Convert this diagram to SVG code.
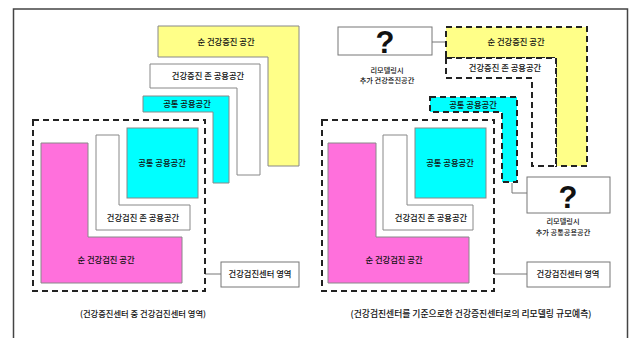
<svg xmlns="http://www.w3.org/2000/svg" width="630" height="338" viewBox="0 0 630 338">
<style>
text{font-family:"Noto Sans CJK KR","Noto Sans",sans-serif;font-size:8.3px;fill:#111;text-anchor:middle;font-weight:500}
.q{font-family:"Liberation Sans",Arial,sans-serif;font-size:31px;font-weight:bold}
.sm{font-size:7.2px}
.solid{stroke:#888;stroke-width:1}
.dash{fill:none;stroke:#222;stroke-width:2;stroke-dasharray:6 4}
.ddash{stroke:#222;stroke-width:2;stroke-dasharray:6 4}
.yel{fill:#FFFF88}
.cy{fill:#00FFFF}
.pk{fill:#FF70DC}
.wh{fill:#FFFFFF}
.box{fill:#fff;stroke:#777;stroke-width:1}
.con{fill:none;stroke:#777;stroke-width:1}
</style>
<rect width="630" height="338" fill="#fff"/>
<path d="M13.5,338 V9 H627.5 V338" fill="none" stroke="#444" stroke-width="1.5"/>

<g id="connectors">
<line class="con" x1="205" y1="274" x2="221" y2="274"/>
<line class="con" x1="494" y1="274" x2="527" y2="274"/>
<line class="con" x1="432" y1="42" x2="446" y2="42"/>
<polyline class="con" points="512,183 512,193 527,193"/>
</g>

<!-- Left panel -->
<g id="L-net-promo">
<polygon class="yel solid" points="158,26 299,26 299,166 268,166 268,57 158,57"/>
<text x="226" y="45">순 건강증진 공간</text>
</g>
<g id="L-promo-zone">
<polygon class="wh solid" points="150,64 260,64 260,175 237,175 237,88 150,88"/>
<text x="208" y="79">건강증진 존 공용공간</text>
</g>
<g id="L-common-top">
<polygon class="cy solid" points="143,96 229,96 229,183 213,183 213,112 143,112"/>
<text x="187" y="107">공통 공용공간</text>
</g>
<g id="L-center">
<rect class="wh dash" x="33" y="120" width="172" height="171"/>
</g>
<g id="L-net-check">
<polygon class="pk solid" points="41,143 88,143 88,237 182,237 182,283 41,283"/>
<text x="106" y="263">순 건강검진 공간</text>
</g>
<g id="L-check-zone">
<polygon class="wh solid" points="96,135 119,135 119,205 190,205 190,230 96,230"/>
<text x="143" y="221">건강검진 존 공용공간</text>
</g>
<g id="L-common-sq">
<rect class="cy solid" x="127" y="128" width="71" height="70"/>
<text x="162" y="166">공통 공용공간</text>
</g>
<g id="L-label">
<rect class="box" x="221" y="262" width="78" height="25"/>
<text x="260" y="277">건강검진센터 영역</text>
</g>
<g id="L-caption">
<text x="143" y="317">(건강증진센터 중 건강검진센터 영역)</text>
</g>

<!-- Right panel -->
<g id="R-q1">
<rect class="box" x="338" y="27" width="94" height="28"/>
<text class="q" x="385" y="53">?</text>
<text class="sm" x="387" y="73">리모델링시</text>
<text class="sm" x="387" y="83">추가 건강증진공간</text>
</g>
<g id="R-net-promo">
<polygon class="yel ddash" points="446,27 587,27 587,166 556,166 556,58 446,58"/>
<text x="516" y="45">순 건강증진 공간</text>
</g>
<g id="R-promo-zone">
<polygon class="wh ddash" points="446,58 556,58 556,166 532,166 532,78 446,78"/>
<text x="505" y="71">건강증진 존 공용공간</text>
</g>
<g id="R-common-top">
<polygon class="cy ddash" points="430,97 517,97 517,182 502,182 502,112 430,112"/>
<text x="473" y="108">공통 공용공간</text>
</g>
<g id="R-center">
<rect class="wh dash" x="322" y="120" width="172" height="171"/>
</g>
<g id="R-net-check">
<polygon class="pk solid" points="328,143 376,143 376,237 469,237 469,283 328,283"/>
<text x="394" y="263">순 건강검진 공간</text>
</g>
<g id="R-check-zone">
<polygon class="wh solid" points="383,135 407,135 407,205 473,205 473,230 383,230"/>
<text x="431" y="221">건강검진 존 공용공간</text>
</g>
<g id="R-common-sq">
<rect class="cy solid" x="415" y="128" width="71" height="70"/>
<text x="450" y="166">공통 공용공간</text>
</g>
<g id="R-q2">
<rect class="box" x="527" y="177" width="83" height="36"/>
<text class="q" x="568" y="208">?</text>
<text class="sm" x="563" y="224">리모델링시</text>
<text class="sm" x="563" y="235">추가 공통공용공간</text>
</g>
<g id="R-label">
<rect class="box" x="527" y="262" width="83" height="25"/>
<text x="568" y="277">건강검진센터 영역</text>
</g>
<g id="R-caption">
<text x="471" y="317" style="font-size:8.8px">(건강검진센터를 기준으로한 건강증진센터로의 리모델링 규모예측)</text>
</g>
</svg>
